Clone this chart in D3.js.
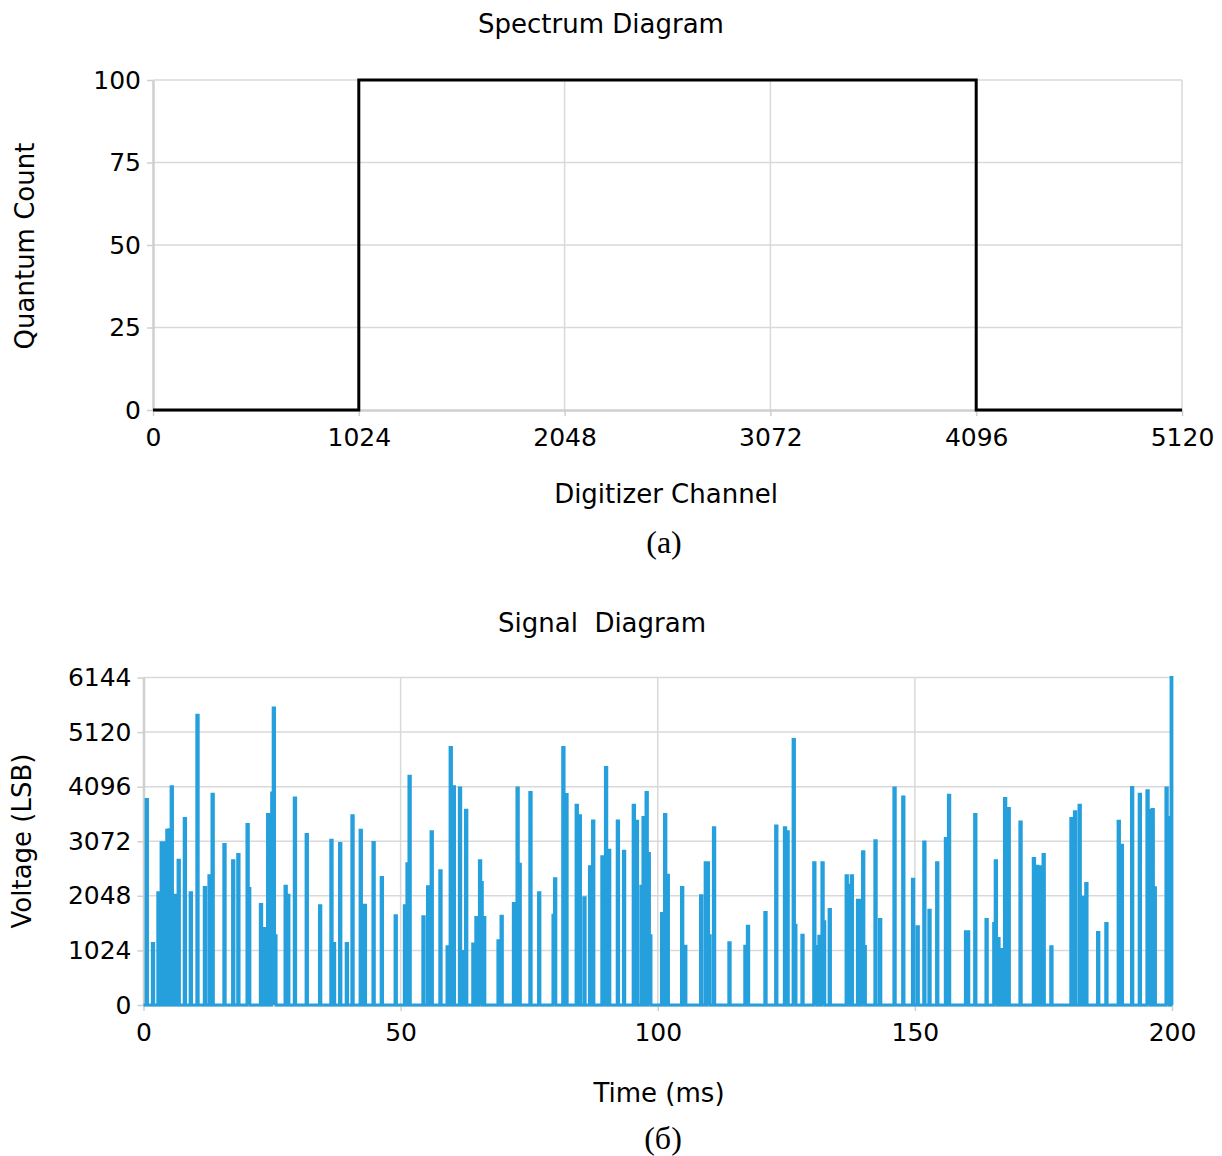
<!DOCTYPE html>
<html>
<head>
<meta charset="utf-8">
<script src="https://cdnjs.cloudflare.com/ajax/libs/d3/7.8.5/d3.min.js"></script>
<style>
  body { margin: 0; background: #fff; }
  svg text { font-family: "DejaVu Sans", Verdana, sans-serif; fill: #000; }
  .caption { font-family: "Liberation Serif", "Times New Roman", serif !important; }
</style>
</head>
<body>
<div id="container"></div>
<script>
// ---- spectrum (top panel) ----
const specChannels = [0, 1024, 1024, 4096, 4096, 5120];
const specCounts   = [0, 0, 100, 100, 0, 0];
const specXTicks   = [0, 1024, 2048, 3072, 4096, 5120];
const specYTicks   = [0, 25, 50, 75, 100];

// ---- signal (bottom panel), one entry per pulse ----
const sigTimes = [
  0.49, 1.7, 2.76, 3.0, 3.4, 3.66, 4.0, 4.5, 4.9, 5.35, 5.6, 6.0, 6.7, 7.9, 9.05,
  10.35, 11.8, 12.7, 13.3, 15.6, 17.3, 18.3, 20.1, 20.4, 22.7, 23.4, 24.1, 24.9, 25.2, 25.5,
  27.5, 28.0, 29.3, 31.6, 34.2, 36.4, 36.9, 38.1, 39.4, 40.5, 42.1, 42.9, 44.6, 46.2, 48.9,
  50.7, 51.2, 51.6, 54.3, 55.2, 55.9, 57.6, 59.0, 59.6, 60.2, 61.4, 61.9, 62.6, 64.0, 64.6,
  65.3, 65.6, 66.1, 68.9, 69.5, 71.9, 72.6, 73.0, 75.1, 76.8, 79.6, 79.9, 81.5, 82.1, 84.1,
  84.7, 85.6, 86.7, 87.3, 89.1, 89.8, 90.4, 92.1, 93.3, 95.2, 95.8, 96.7, 97.1, 97.7, 98.1,
  98.4, 100.7, 101.3, 101.8, 104.6, 105.2, 108.3, 109.2, 109.6, 109.9, 110.8, 113.8, 116.9, 117.4, 120.8,
  122.9, 124.6, 125.1, 126.3, 126.6, 128.0, 130.3, 130.6, 131.3, 131.9, 132.2, 133.3, 136.6, 137.0, 137.6,
  138.8, 139.3, 139.8, 140.1, 142.2, 143.1, 145.9, 147.6, 149.5, 150.4, 151.7, 152.7, 154.2, 155.9, 156.5,
  159.8, 160.2, 161.6, 163.8, 165.3, 165.6, 166.1, 166.7, 167.4, 168.1, 170.4, 173.0, 173.6, 174.4, 174.9,
  176.4, 180.3, 181.0, 181.9, 182.4, 183.2, 185.5, 187.1, 189.5, 190.1, 192.1, 193.6, 195.1, 195.4, 196.1,
  196.5, 198.8, 199.1, 199.8
];
const sigPeaks = [
  3857, 1157, 2106, 2050, 3044, 3044, 1950, 3281, 3290, 4094, 2050, 2062, 2719, 3500, 2106,
  5437, 2206, 2425, 3956, 3012, 2706, 2825, 3387, 2187, 1887, 1437, 3575, 3980, 5575, 1300,
  2231, 2062, 3887, 3200, 1862, 3094, 1157, 3031, 1157, 3550, 3281, 1875, 3050, 2394, 1675,
  1862, 2650, 4294, 1656, 2219, 3250, 2519, 1094, 4831, 4094, 4075, 1006, 3656, 1144, 1644,
  2706, 2300, 1644, 1206, 1669, 1906, 4075, 2644, 3987, 2106, 1687, 2369, 4831, 3950, 3750,
  3550, 2012, 2594, 3456, 2781, 4456, 2906, 3456, 2887, 3750, 3450, 2231, 3519, 3987, 2844,
  1300, 1719, 3575, 2437, 2206, 1106, 2050, 2669, 2669, 1300, 3325, 1169, 1106, 1481, 1737,
  3362, 3325, 3250, 4981, 1500, 1312, 2669, 1100, 1294, 2669, 1562, 1794, 2425, 2250, 2425,
  1969, 1969, 2875, 1100, 3081, 1606, 4075, 3906, 2362, 1469, 3062, 1781, 2669, 3125, 3937,
  1375, 1375, 3575, 1606, 1531, 2706, 1250, 1044, 3875, 3687, 3437, 2750, 2606, 2594, 2825,
  1094, 3500, 3625, 3750, 2025, 2281, 1362, 1531, 3450, 3000, 4081, 3956, 4019, 3650, 3669,
  2200, 4075, 3519, 6144
];
const sigXTicks = [0, 50, 100, 150, 200];
const sigYTicks = [0, 1024, 2048, 3072, 4096, 5120, 6144];
const pulseWidth = 0.3; // ms, how long each pulse stays at its peak

const W = 1222, H = 1156;
const gridColor = "#d9d9d9";

const svg = d3.select("#container").append("svg")
  .attr("width", W).attr("height", H);

// draws frame, gridlines, axes and labels of one panel, returns the scales
function drawFrame(p) {
  const x = d3.scaleLinear().domain(p.xDomain).range([p.left, p.right]);
  const y = d3.scaleLinear().domain(p.yDomain).range([p.bottom, p.top]);
  const g = svg.append("g");

  // gridlines
  g.selectAll(".hg").data(p.yTicks.filter(d => d !== p.yDomain[0])).join("line")
    .attr("x1", p.left).attr("x2", p.right)
    .attr("y1", d => y(d)).attr("y2", d => y(d))
    .attr("stroke", gridColor).attr("stroke-width", 1.5);
  g.selectAll(".vg").data(p.xTicks.filter(d => d !== p.xDomain[0])).join("line")
    .attr("x1", d => x(d)).attr("x2", d => x(d))
    .attr("y1", p.top).attr("y2", p.bottom)
    .attr("stroke", gridColor).attr("stroke-width", 1.5);

  // axes, plain integer labels (no thousands comma)
  const fmt = d3.format("d");
  const xa = g.append("g").attr("transform", `translate(0,${p.bottom})`)
    .call(d3.axisBottom(x).tickValues(p.xTicks).tickFormat(fmt)
      .tickSize(6).tickSizeOuter(0).tickPadding(p.xPad));
  const ya = g.append("g").attr("transform", `translate(${p.left},0)`)
    .call(d3.axisLeft(y).tickValues(p.yTicks).tickFormat(fmt)
      .tickSize(6).tickSizeOuter(0).tickPadding(6));
  [xa, ya].forEach(a => {
    a.select(".domain").attr("stroke", "#cfcfcf").attr("stroke-width", 2.5);
    a.selectAll(".tick line").attr("stroke", "#cfcfcf").attr("stroke-width", 1.5);
    a.selectAll(".tick text").attr("font-size", 25)
      .style("font-family", '"DejaVu Sans", Verdana, sans-serif').attr("fill", "#000");
  });

  // texts
  svg.append("text").attr("x", p.titleX).attr("y", p.titleY)
    .attr("text-anchor", "middle").attr("font-size", 26).style("white-space", "pre")
    .text(p.title);
  svg.append("text").attr("x", p.xLabelX).attr("y", p.xLabelY)
    .attr("text-anchor", "middle").attr("font-size", 26).text(p.xLabel);
  svg.append("text")
    .attr("transform", `translate(${p.yLabelX},${p.yLabelY}) rotate(-90)`)
    .attr("text-anchor", "middle").attr("font-size", 26).text(p.yLabel);
  svg.append("text").attr("class", "caption").attr("x", p.capX).attr("y", p.capY)
    .attr("text-anchor", "middle").attr("font-size", 32).text(p.caption);
  return { x, y };
}

// ---- top panel ----
const specPanel = drawFrame({
  xDomain: [0, 5120], yDomain: [0, 100], xTicks: specXTicks, yTicks: specYTicks,
  left: 153, right: 1182, top: 80, bottom: 410, xPad: 12,
  title: "Spectrum Diagram", titleX: 601, titleY: 33,
  xLabel: "Digitizer Channel", xLabelX: 666, xLabelY: 503,
  yLabel: "Quantum Count", yLabelX: 34, yLabelY: 246,
  caption: "(a)", capX: 664, capY: 553
});
const specLine = d3.line().x(d => specPanel.x(d[0])).y(d => specPanel.y(d[1]));
svg.append("path")
  .datum(specChannels.map((c, i) => [c, specCounts[i]]))
  .attr("d", specLine).attr("fill", "none")
  .attr("stroke", "#000").attr("stroke-width", 3).attr("stroke-linejoin", "miter");

// ---- bottom panel ----
const sigPanel = drawFrame({
  xDomain: [0, 200], yDomain: [0, 6144], xTicks: sigXTicks, yTicks: sigYTicks,
  left: 143.5, right: 1172, top: 677.5, bottom: 1005, xPad: 12,
  title: "Signal  Diagram", titleX: 602, titleY: 632,
  xLabel: "Time (ms)", xLabelX: 659, xLabelY: 1102,
  yLabel: "Voltage (LSB)", yLabelX: 31, yLabelY: 841,
  caption: "(б)", capX: 663, capY: 1149
});
// build the trace: flat baseline with a rectangular pulse at each peak
const sigPts = [[0, 0]];
sigTimes.forEach((t, i) => {
  sigPts.push([t, 0], [t, sigPeaks[i]], [t + pulseWidth, sigPeaks[i]], [t + pulseWidth, 0]);
});
sigPts.push([200, 0]);
const sigLine = d3.line().x(d => sigPanel.x(Math.min(d[0], 200))).y(d => sigPanel.y(d[1]));
svg.append("path").datum(sigPts)
  .attr("d", sigLine).attr("fill", "none")
  .attr("stroke", "#25a0dc").attr("stroke-width", 2.8).attr("stroke-linejoin", "miter");
</script>
</body>
</html>
